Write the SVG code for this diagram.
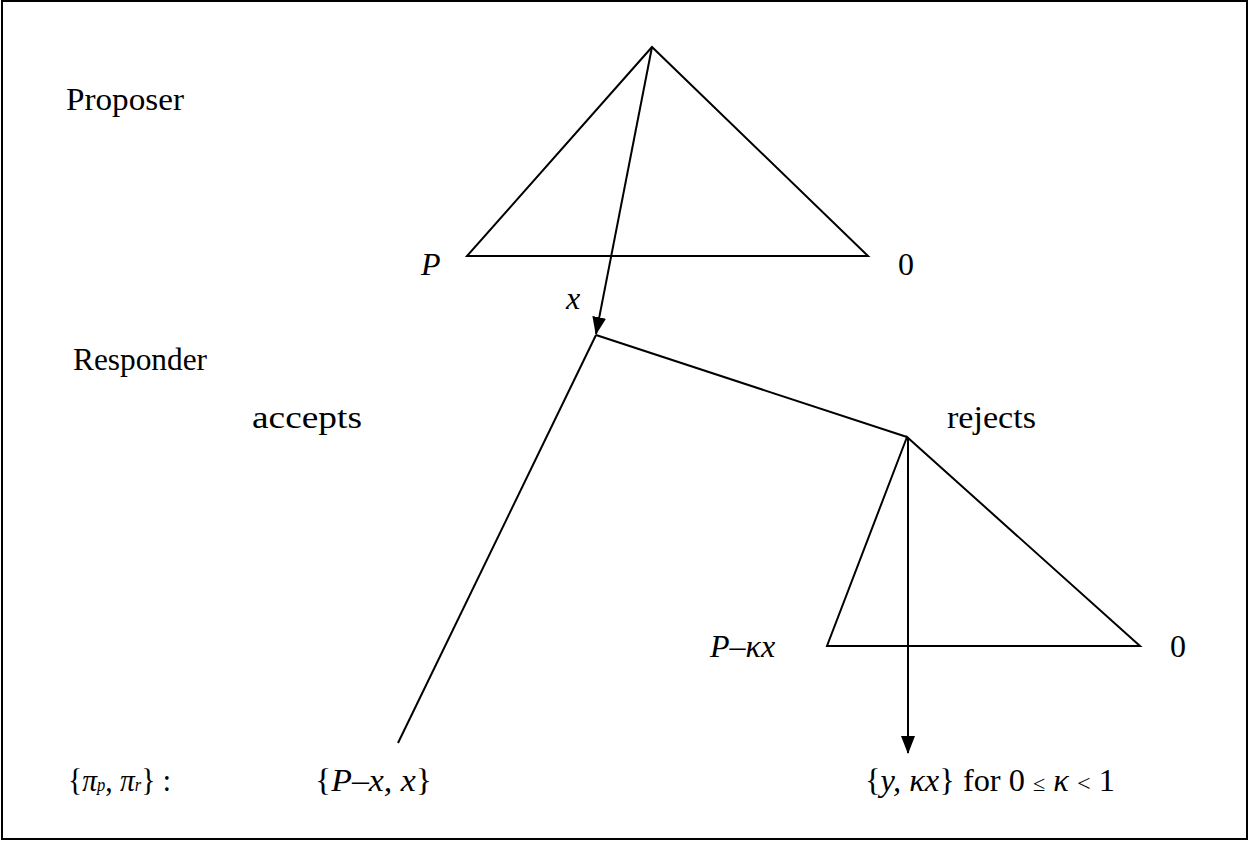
<svg xmlns="http://www.w3.org/2000/svg" width="1250" height="841" viewBox="0 0 1250 841">
<style>
text{font-family:"Liberation Serif","Times New Roman",serif;font-size:32px;fill:#000}
.i{font-style:italic}
.e{stroke:#000;stroke-width:2;fill:none}
</style>
<defs>
<marker id="ah" markerWidth="18" markerHeight="14" refX="17" refY="7" orient="auto" markerUnits="userSpaceOnUse" viewBox="0 0 18 14">
<path d="M0,0 L18,7 L0,14 z" fill="#000"/>
</marker>
</defs>
<rect x="2" y="1" width="1245" height="838" fill="#fff" stroke="#000" stroke-width="2"/>
<g id="connectors">
<polygon class="e" points="652,47 467,256 868,256"/>
<line class="e" x1="652" y1="47" x2="596" y2="334" marker-end="url(#ah)"/>
<line class="e" x1="596" y1="335" x2="907" y2="437"/>
<line class="e" x1="596" y1="335" x2="398" y2="743"/>
<polygon class="e" points="907,437 827,646 1140,646"/>
<line class="e" x1="908" y1="437" x2="908" y2="753" marker-end="url(#ah)"/>
</g>
<g id="proposer"><text x="66" y="110" textLength="118" lengthAdjust="spacingAndGlyphs">Proposer</text></g>
<g id="responder"><text x="73" y="370" textLength="134" lengthAdjust="spacingAndGlyphs">Responder</text></g>
<g id="accepts"><text x="252" y="428" textLength="110" lengthAdjust="spacingAndGlyphs">accepts</text></g>
<g id="rejects"><text x="947" y="428" textLength="89" lengthAdjust="spacingAndGlyphs">rejects</text></g>
<g id="p-label"><text class="i" x="421" y="275">P</text></g>
<g id="zero1"><text x="898" y="275">0</text></g>
<g id="x-label"><text class="i" x="566" y="309">x</text></g>
<g id="pkx-label"><text class="i" x="710" y="657">P–κx</text></g>
<g id="zero2"><text x="1170" y="657">0</text></g>
<g id="payoffs"><text x="68" y="791" textLength="103" lengthAdjust="spacingAndGlyphs">{<tspan class="i">π</tspan><tspan class="i" font-size="18">p</tspan>, <tspan class="i">π</tspan><tspan class="i" font-size="18">r</tspan>} :</text></g>
<g id="accept-payoff"><text x="315" y="791" textLength="117" lengthAdjust="spacingAndGlyphs">{<tspan class="i">P–x, x</tspan>}</text></g>
<g id="reject-payoff"><text x="865" y="791" textLength="250" lengthAdjust="spacingAndGlyphs">{<tspan class="i">y, κx</tspan>} for 0 <tspan font-size="22">≤</tspan> <tspan class="i">κ</tspan> <tspan font-size="24">&lt;</tspan> 1</text></g>
</svg>
